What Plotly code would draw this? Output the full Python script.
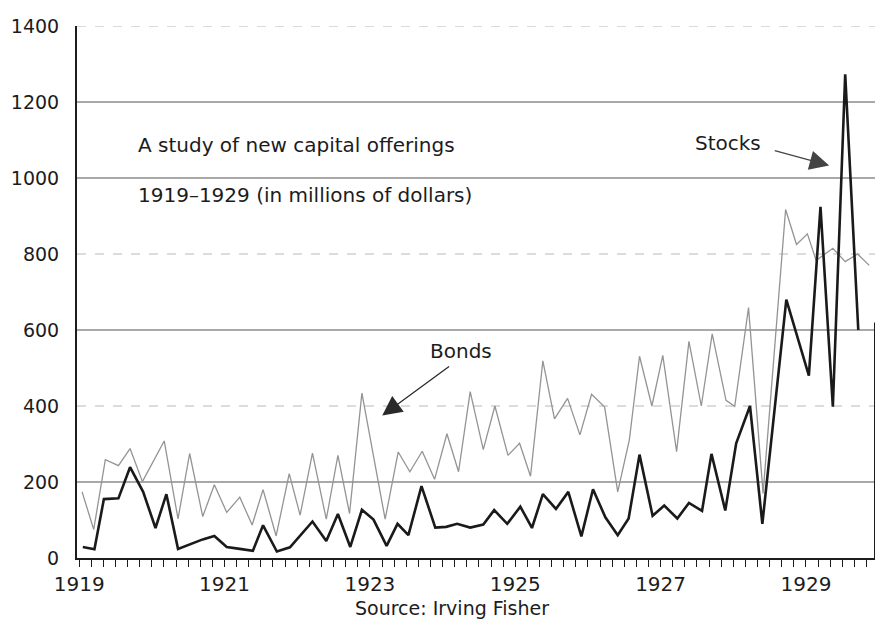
import plotly.graph_objects as go

# New capital offerings, 1919-1929 (millions of dollars)
stock_years = [1919.05, 1919.21, 1919.34, 1919.54, 1919.70, 1919.88,
               1920.05, 1920.20, 1920.36, 1920.54, 1920.70, 1920.86,
               1921.03, 1921.21, 1921.39, 1921.53, 1921.72, 1921.90,
               1922.04, 1922.21, 1922.40, 1922.56, 1922.73, 1922.89,
               1923.05, 1923.23, 1923.38, 1923.53, 1923.71, 1923.90,
               1924.05, 1924.20, 1924.38, 1924.56, 1924.71, 1924.89,
               1925.07, 1925.23, 1925.38, 1925.56, 1925.73, 1925.91,
               1926.07, 1926.24, 1926.41, 1926.56, 1926.71, 1926.89,
               1927.05, 1927.23, 1927.39, 1927.57, 1927.70, 1927.89,
               1928.04, 1928.23, 1928.40, 1928.73,
               1929.04, 1929.20, 1929.37, 1929.54, 1929.72]
stock_values = [29, 23, 155, 157, 239, 174,
                79, 168, 24, 38, 49, 58,
                29, 24, 19, 86, 17, 28,
                60, 96, 45, 116, 29, 127,
                101, 32, 90, 60, 189, 80,
                82, 90, 80, 88, 126, 90,
                135, 79, 168, 129, 174, 57,
                181, 107, 60, 104, 272, 111,
                138, 104, 145, 124, 274, 125,
                302, 400, 90, 680,
                480, 924, 398, 1273, 600]

bond_years = [1919.04, 1919.20, 1919.36, 1919.54, 1919.70, 1919.87,
              1920.17, 1920.36, 1920.52, 1920.70, 1920.86,
              1921.03, 1921.21, 1921.38, 1921.53, 1921.71, 1921.89,
              1922.04, 1922.21, 1922.40, 1922.56, 1922.72, 1922.89,
              1923.21, 1923.39, 1923.55, 1923.72, 1923.89,
              1924.06, 1924.22, 1924.38, 1924.56, 1924.72, 1924.90,
              1925.06, 1925.21, 1925.38, 1925.54, 1925.72, 1925.89,
              1926.05, 1926.23, 1926.41, 1926.57, 1926.71, 1926.88,
              1927.03, 1927.22, 1927.39, 1927.56, 1927.71, 1927.90,
              1928.02, 1928.21, 1928.41, 1928.72, 1928.87,
              1929.02, 1929.14, 1929.37, 1929.54, 1929.71, 1929.87]
bond_values = [174, 75, 259, 243, 288, 201,
               308, 103, 275, 109, 193,
               120, 160, 87, 180, 58, 222,
               113, 276, 102, 270, 117, 434,
               102, 279, 227, 281, 207,
               327, 227, 438, 285, 400, 270,
               302, 215, 519, 366, 420, 324,
               431, 397, 174, 311, 531, 400,
               533, 280, 570, 400, 590, 415,
               399, 659, 170, 917, 825,
               853, 783, 815, 780, 800, 770]

year_ticks = [1919, 1921, 1923, 1925, 1927, 1929]
value_ticks = [0, 200, 400, 600, 800, 1000, 1200, 1400]
dark_grid = [200, 600, 1000, 1200]
light_grid = [400, 800, 1400]

FONT = "DejaVu Sans"
INK = "#1c1c1c"

fig = go.Figure()

fig.add_trace(go.Scatter(
    x=bond_years, y=bond_values, mode="lines", name="Bonds",
    line=dict(color="#949494", width=1.3),
))
fig.add_trace(go.Scatter(
    x=stock_years, y=stock_values, mode="lines", name="Stocks",
    line=dict(color="#1a1a1a", width=2.6),
))

# horizontal rules: the scan shows some darker, some faint
for level in dark_grid:
    fig.add_hline(y=level, line=dict(color="#555555", width=1.2), layer="below")
for level in light_grid:
    fig.add_hline(y=level, line=dict(color="#b8b8b8", width=1, dash="dash"), layer="below")

# right-hand frame, only the lower part survives in the scan
fig.add_shape(type="line", xref="paper", x0=1, x1=1, yref="y", y0=0, y1=620,
              line=dict(color=INK, width=2))

text_font = dict(family=FONT, size=20, color=INK)
fig.add_annotation(x=1919.78, y=1087, xref="x", yref="y", text="A study of new capital offerings",
                   showarrow=False, xanchor="left", yanchor="middle", font=text_font)
fig.add_annotation(x=1919.78, y=955, xref="x", yref="y", text="1919–1929 (in millions of dollars)",
                   showarrow=False, xanchor="left", yanchor="middle", font=text_font)
fig.add_annotation(x=1927.44, y=1093, xref="x", yref="y", text="Stocks",
                   showarrow=False, xanchor="left", yanchor="middle", font=text_font)
fig.add_annotation(x=1923.80, y=545, xref="x", yref="y", text="Bonds",
                   showarrow=False, xanchor="left", yanchor="middle", font=text_font)

# pointer arrows with heavy heads, as in the original
fig.add_annotation(x=1929.32, y=1033, ax=1928.55, ay=1073, xref="x", yref="y",
                   axref="x", ayref="y", text="", showarrow=True, arrowhead=2,
                   arrowsize=3, arrowwidth=1.3, arrowcolor="#444444")
fig.add_annotation(x=1923.17, y=375, ax=1924.11, ay=507, xref="x", yref="y",
                   axref="x", ayref="y", text="", showarrow=True, arrowhead=2,
                   arrowsize=3, arrowwidth=1.3, arrowcolor="#2a2a2a")

fig.add_annotation(x=0.47, y=-0.094, xref="paper", yref="paper", text="Source: Irving Fisher",
                   showarrow=False, xanchor="center", yanchor="middle",
                   font=dict(family=FONT, size=19, color=INK))

# page body adds an 8px offset, so the figure is sized to fit inside the window
fig.update_layout(
    width=867,
    height=621,
    margin=dict(l=69, r=0, t=18, b=71),
    paper_bgcolor="white",
    plot_bgcolor="white",
    showlegend=False,
    font=dict(family=FONT, size=19, color=INK),
    xaxis=dict(
        range=[1918.97, 1929.95],
        tickmode="array",
        tickvals=year_ticks,
        ticktext=[str(y) for y in year_ticks],
        ticks="outside",
        ticklen=7,
        tickwidth=1.4,
        tickcolor=INK,
        minor=dict(ticks="outside", tickmode="linear", tick0=1919, dtick=1 / 6,
                   ticklen=7, tickwidth=1.4, tickcolor=INK, showgrid=False),
        showgrid=False,
        zeroline=False,
        showline=True,
        linecolor=INK,
        linewidth=2,
        tickfont=dict(family=FONT, size=20, color=INK),
    ),
    yaxis=dict(
        range=[0, 1400],
        tickmode="array",
        tickvals=value_ticks,
        ticks="",
        ticklabelstandoff=12,
        showgrid=False,
        zeroline=False,
        showline=True,
        linecolor=INK,
        linewidth=2,
        tickfont=dict(family=FONT, size=19, color=INK),
    ),
)

fig.write_html("out.html")
